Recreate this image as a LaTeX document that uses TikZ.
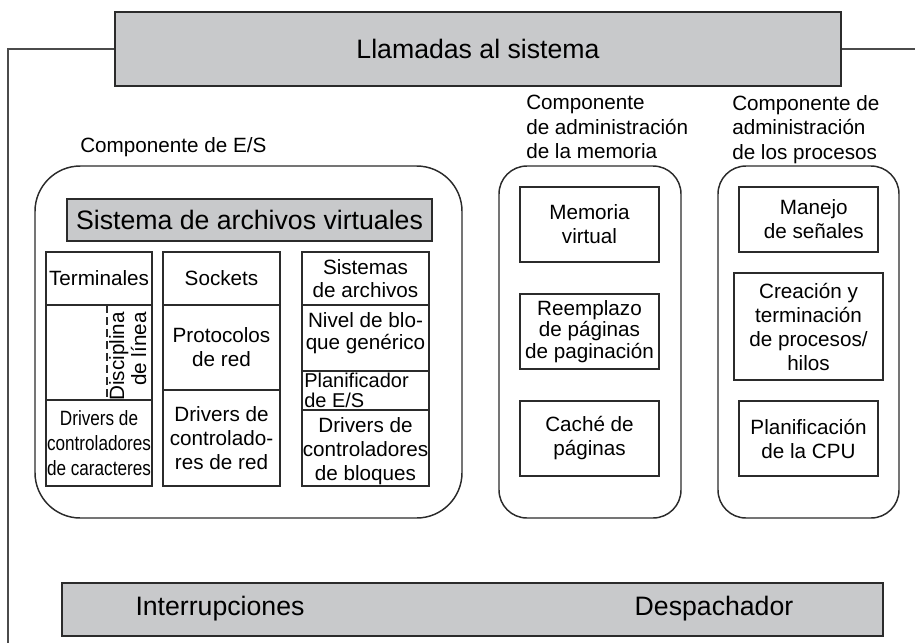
\documentclass[tikz,border=0pt]{standalone}
\usepackage{fontspec}
\setmainfont{Liberation Sans}
\newfontfamily\narrowfont[FakeStretch=0.83]{Liberation Sans}
\definecolor{boxgray}{HTML}{C8C9CB}
\definecolor{ink}{HTML}{2B2B2B}
\newcommand\pxu{0.75pt}
\tikzset{
  big/.style={draw=ink, line width=1.2pt, fill=boxgray, inner sep=0pt, font=\fontsize{20}{24}\selectfont},
  cell/.style={draw=ink, line width=0.9pt, fill=white, inner sep=0pt, align=center, font=\fontsize{15.5}{18}\selectfont},
  grp/.style={draw=ink, line width=1.1pt, inner sep=0pt},
  lab/.style={inner sep=0pt, align=left, font=\fontsize{15.5}{18.4}\selectfont},
  frameline/.style={draw=ink!85, line width=1pt},
  bigtext/.style={inner sep=0pt, font=\fontsize{20}{24}\selectfont}
}
\begin{document}
\begin{tikzpicture}[x=0.75pt,y=-0.75pt]
\useasboundingbox (0,0) rectangle (915,643);

% system calls + frame
\node[big, minimum width=726*\pxu, minimum height=74*\pxu] (sys) at (478,49) {Llamadas al sistema};
\coordinate (fl) at (8,643);
\coordinate (fr) at (915,49);
\draw[frameline] (sys.west) -| (fl);
\draw[frameline] (sys.east) -- (fr);

% group containers
\node[grp, rounded corners=34pt, minimum width=427*\pxu, minimum height=352*\pxu] (es) at (248.5,342) {};
\node[grp, rounded corners=21pt, minimum width=182*\pxu, minimum height=352*\pxu] (mem) at (590,342) {};
\node[grp, rounded corners=21pt, minimum width=181*\pxu, minimum height=352*\pxu] (proc) at (808.5,342) {};

% labels
\node[lab, anchor=west] (esl) at (80,147) {Componente de E/S};
\node[lab, anchor=north west] (meml) at (526,95) {Componente\\de administración\\de la memoria};
\node[lab, anchor=north west] (procl) at (732,95) {Componente de\\administración\\de los procesos};

% VFS
\node[big, line width=1pt, minimum width=365*\pxu, minimum height=42*\pxu] (vfs) at (249.5,220) {Sistema de archivos virtuales};

% column 1
\node[cell, minimum width=106*\pxu, minimum height=53*\pxu] (term) at (99,278.5) {Terminales};
\node[cell, minimum width=106*\pxu, minimum height=95*\pxu] (disc) at (99,352.5) {};
\node[cell, minimum width=106*\pxu, minimum height=86*\pxu, font=\narrowfont\fontsize{15.5}{19}\selectfont] (chr) at (99,443) {Drivers de\\controladores\\de caracteres};
\coordinate (d1) at (107,305);
\coordinate (d2) at (107,398);
\draw[ink, line width=0.8pt, dash pattern=on 6pt off 3pt] (d1) -- (d2);
\node[inner sep=0pt, rotate=90, anchor=north east, align=right, font=\fontsize{15.5}{16.5}\selectfont] (disct) at (109,312) {Disciplina\\de línea};

% column 2
\node[cell, minimum width=117*\pxu, minimum height=53*\pxu] (sock) at (221.5,278.5) {Sockets};
\node[cell, minimum width=117*\pxu, minimum height=85*\pxu] (prot) at (221.5,347.5) {Protocolos\\de red};
\node[cell, minimum width=117*\pxu, minimum height=96*\pxu] (netd) at (221.5,438) {Drivers de\\controlado-\\res de red};

% column 3
\node[cell, minimum width=127*\pxu, minimum height=53*\pxu, font=\fontsize{15.5}{17}\selectfont] (fs) at (365.5,278.5) {Sistemas\\de archivos};
\node[cell, minimum width=127*\pxu, minimum height=66*\pxu] (blk) at (365.5,338) {};
\node[inner sep=0pt, align=center, font=\fontsize{15.5}{16}\selectfont] (blkt) at (365.5,333) {Nivel de blo-\\que genérico};
\node[cell, minimum width=127*\pxu, minimum height=39*\pxu] (sch) at (365.5,390.5) {};
\node[inner sep=0pt, anchor=north west, align=left, font=\fontsize{15}{14.5}\selectfont] (scht) at (304,373) {Planificador\\de E/S};
\node[cell, minimum width=127*\pxu, minimum height=76*\pxu] (blkd) at (365.5,448) {};
\node[inner sep=0pt, align=center, font=\fontsize{15.5}{18}\selectfont] (blkdt) at (365.5,451) {Drivers de\\controladores\\de bloques};

% memory
\node[cell, minimum width=139*\pxu, minimum height=75*\pxu] (mv) at (589.5,224.5) {Memoria\\virtual};
\node[cell, minimum width=139*\pxu, minimum height=75*\pxu, font=\fontsize{15.5}{16.3}\selectfont] (rp) at (589.5,331.5) {Reemplazo\\de páginas\\de paginación};
\node[cell, minimum width=139*\pxu, minimum height=75*\pxu] (cp) at (589.5,438.5) {Caché de\\páginas};

% processes
\node[cell, minimum width=139*\pxu, minimum height=65*\pxu] (ms) at (808.5,219.5) {\hspace*{8pt}Manejo\\\hspace*{8pt}de señales};
\node[cell, minimum width=149*\pxu, minimum height=107*\pxu] (ct) at (808.5,326.5) {Creación y\\terminación\\de procesos/\\hilos};
\node[cell, minimum width=139*\pxu, minimum height=75*\pxu] (cpu) at (808.5,438.5) {Planificación\\de la CPU};

% bottom
\node[big, minimum width=821*\pxu, minimum height=53*\pxu] (bot) at (472.5,609.5) {};
\node[bigtext] (intr) at (220,609) {Interrupciones};
\node[bigtext] (desp) at (714,609) {Despachador};
\end{tikzpicture}
\end{document}
